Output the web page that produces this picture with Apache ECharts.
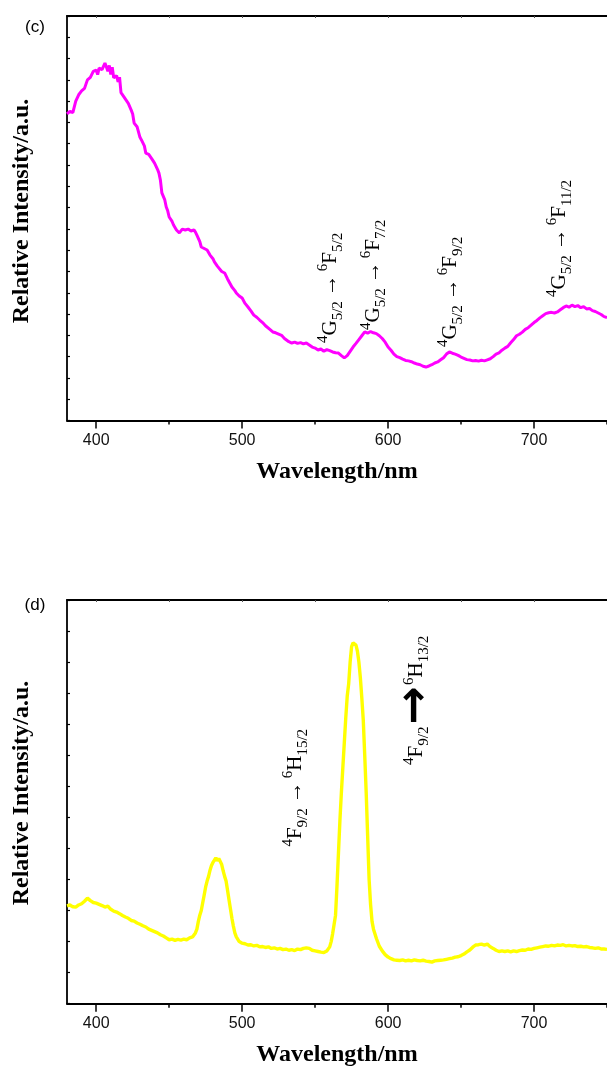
<!DOCTYPE html>
<html>
<head>
<meta charset="utf-8">
<script src="https://cdn.jsdelivr.net/npm/echarts@6/dist/echarts.min.js"></script>
<style>
  html, body { margin: 0; padding: 0; background: #fff; }
  #chart { width: 607px; height: 1071px; }
</style>
</head>
<body>
<div id="chart"></div>
<script>
// Emission spectrum (c): [wavelength nm, relative intensity]
const spectrumC = [
  [380,1440],[382,1452],[384,1446],[386,1500],[388,1530],[390,1548],[392,1560],[394,1600],[396,1612],[398,1640],
  [400,1646],[401,1625],[402,1655],[404,1648],[406,1679],[407,1660],[408,1640],[409,1668],[410,1625],[411,1660],
  [412,1610],[414,1620],[415,1590],[416,1613],[417,1540],[418,1548],[419,1520],[420,1515],[422,1490],[424,1458],
  [425,1440],[426,1397],[428,1380],[430,1330],[431,1318],[433,1290],[434,1256],[436,1250],[438,1230],[440,1209],
  [442,1180],[443,1162],[444,1129],[445,1069],[446,1060],[447,1036],[448,1003],[449,985],[450,956],[452,935],
  [453,918],[455,895],[457,881],[458,890],[459,899],[461,895],[463,899],[465,890],[467,895],[468,885],
  [469,871],[471,840],[472,815],[474,808],[476,801],[478,777],[480,760],[481,745],[483,725],[484,716],
  [486,700],[488,693],[490,665],[491,660],[493,627],[495,610],[496,599],[498,585],[500,575],[502,550],
  [504,533],[506,515],[508,495],[510,485],[512,472],[514,460],[516,445],[517,439],[519,428],[521,416],
  [523,412],[525,406],[527,400],[529,385],[530,378],[532,370],[534,364],[536,368],[538,362],[540,366],
  [542,360],[544,364],[546,355],[548,345],[550,340],[552,331],[554,336],[556,325],[558,333],[560,328],
  [562,322],[564,318],[566,317],[568,305],[570,294],[571,298],[572,305],[574,325],[576,345],[578,362],
  [580,380],[582,398],[584,416],[586,410],[588,418],[590,412],[592,408],[594,398],[596,385],[598,368],
  [600,345],[602,330],[604,312],[606,300],[608,295],[610,288],[612,282],[614,280],[616,276],[618,270],
  [620,265],[622,262],[624,255],[626,251],[628,256],[630,262],[632,270],[634,275],[636,285],[638,295],
  [640,312],[642,322],[644,316],[646,312],[648,306],[650,298],[652,292],[654,286],[656,284],[658,280],
  [660,282],[662,279],[664,283],[666,280],[668,285],[670,290],[672,300],[674,312],[676,318],[678,330],
  [680,340],[682,348],[684,365],[686,380],[688,398],[690,405],[692,415],[694,428],[696,436],[698,448],
  [700,460],[702,470],[704,482],[706,492],[708,502],[710,506],[712,508],[714,505],[716,510],[718,520],
  [720,530],[722,538],[724,532],[726,542],[728,535],[730,540],[732,530],[734,535],[736,524],[738,526],
  [740,516],[742,512],[744,505],[746,498],[748,488],[750,484]
];

// Emission spectrum (d): [wavelength nm, relative intensity]
const spectrumD = [
  [380,315],[382,318],[384,312],[386,311],[388,318],[390,322],[392,330],[394,340],[396,332],[398,326],
  [400,324],[402,320],[404,316],[406,311],[408,314],[410,304],[412,298],[414,295],[416,290],[418,284],
  [420,279],[422,275],[424,268],[426,266],[428,260],[430,256],[432,251],[434,247],[436,240],[438,236],
  [440,232],[442,228],[444,222],[446,218],[448,212],[450,206],[452,208],[454,204],[456,207],[458,205],
  [460,208],[462,206],[464,212],[466,215],[468,228],[469,240],[470,265],[471,285],[472,300],[473,325],
  [474,350],[475,376],[476,395],[477,410],[478,430],[479,445],[480,455],[481,462],[482,470],[483,460],
  [484,468],[485,463],[486,448],[487,428],[488,410],[489,395],[490,365],[491,335],[492,305],[493,275],
  [494,250],[495,228],[496,215],[498,200],[500,195],[502,193],[504,189],[506,190],[508,186],[510,188],
  [512,183],[514,184],[516,181],[518,183],[520,178],[522,180],[524,176],[526,178],[528,174],[530,176],
  [532,172],[534,174],[536,171],[538,176],[540,174],[542,178],[544,180],[546,178],[548,172],[550,170],
  [552,168],[554,166],[556,165],[558,170],[560,183],[561,200],[562,225],[563,255],[564,285],[565,380],
  [566,485],[567,590],[568,680],[569,760],[570,840],[571,920],[572,990],[573,1030],[574,1100],[575,1150],
  [576,1162],[577,1165],[578,1155],[579,1135],[580,1100],[581,1050],[582,985],[583,913],[584,800],[585,680],
  [586,540],[587,400],[588,320],[589,265],[590,240],[592,210],[594,185],[596,170],[598,158],[600,150],
  [602,145],[604,141],[606,140],[608,139],[610,141],[612,138],[614,140],[616,138],[618,141],[620,139],
  [622,138],[624,140],[626,137],[628,136],[630,134],[632,138],[634,139],[636,140],[638,141],[640,143],
  [642,145],[644,147],[646,150],[648,151],[650,155],[652,160],[654,167],[656,173],[658,182],[660,189],
  [662,190],[664,192],[666,189],[668,192],[670,183],[672,178],[674,172],[676,168],[678,170],[680,168],
  [682,170],[684,167],[686,170],[688,168],[690,171],[692,173],[694,172],[696,176],[698,175],[700,178],
  [702,180],[704,182],[706,184],[708,186],[710,185],[712,188],[714,186],[716,189],[718,188],[720,190],
  [722,186],[724,188],[726,186],[728,187],[730,184],[732,185],[734,183],[736,184],[738,181],[740,180],
  [742,178],[744,180],[746,176],[748,176],[750,175]
];

// Axis ticks (nm)
const labelTicks = [400, 500, 600, 700];
const halfTicks = [450, 550, 650, 750];
const frameTicks = [400, 450, 500, 550, 600, 650, 700, 750];

// Transition labels: anchor [nm, intensity] at the start of each text
const transitionAnchorsC = [[560.5, 364], [589.8, 425], [643, 345], [717.4, 580]];
const transitionTextsC = [
  '{sup|4}{m|G}{sub|5/2}{ar|→}{sup|6}{m|F}{sub|5/2}',
  '{sup|4}{m|G}{sub|5/2}{ar|→}{sup|6}{m|F}{sub|7/2}',
  '{sup|4}{m|G}{sub|5/2}{ar|→}{sup|6}{m|F}{sub|9/2}',
  '{sup|4}{m|G}{sub|5/2}{ar|→}{sup|6}{m|F}{sub|11/2}'
];
const transitionAnchorsD = [[536.4, 506], [619.4, 769]];
const transitionTextsD = [
  '{sup|4}{m|F}{sub|9/2}{ar|→}{sup|6}{m|H}{sub|15/2}',
  '{sup|4}{m|F}{sub|9/2}{big|→}{sup|6}{m|H}{sub|13/2}'
];

const SERIF = '"Liberation Serif", "Times New Roman", serif';
const SANS = '"Liberation Sans", Arial, sans-serif';
const BLACK = '#000';

const chart = echarts.init(document.getElementById('chart'), null, { renderer: 'canvas' });

function xAxesFor(g) {
  const common = { type: 'value', gridIndex: g, min: 380, max: 750, splitLine: { show: false } };
  return [
    Object.assign({}, common, {
      position: 'bottom',
      axisLine: { onZero: false, lineStyle: { color: BLACK, width: 1.8 } },
      axisTick: { customValues: labelTicks, length: 8, lineStyle: { color: BLACK, width: 1.5 } },
      axisLabel: { customValues: labelTicks, margin: 12, color: '#111', fontSize: 16, fontFamily: SANS },
      name: 'Wavelength/nm', nameLocation: 'middle', nameGap: 39,
      nameTextStyle: { color: BLACK, fontSize: 24, fontWeight: 'bold', fontFamily: SERIF }
    }),
    Object.assign({}, common, {
      position: 'bottom',
      axisLine: { show: false, onZero: false },
      axisTick: { customValues: halfTicks, length: 4, lineStyle: { color: BLACK, width: 1.5 } },
      axisLabel: { show: false }
    }),
    Object.assign({}, common, {
      position: 'top',
      axisLine: { onZero: false, lineStyle: { color: BLACK, width: 1.8 } },
      axisTick: { inside: true, customValues: frameTicks, length: 2, lineStyle: { color: '#555', width: 1 } },
      axisLabel: { show: false }
    })
  ];
}

function yAxisFor(g, max) {
  return {
    type: 'value', gridIndex: g, position: 'left', min: 0, max: max, interval: 100,
    axisLine: { onZero: false, lineStyle: { color: BLACK, width: 1.8 } },
    axisTick: { inside: true, length: 3, lineStyle: { color: BLACK, width: 1.2 } },
    axisLabel: { show: false },
    splitLine: { show: false }
  };
}

chart.setOption({
  animation: false,
  backgroundColor: '#fff',
  grid: [
    { left: 67, top: 16, width: 543, height: 404.5 },
    { left: 67, top: 600, width: 543, height: 403.7 }
  ],
  xAxis: xAxesFor(0).concat(xAxesFor(1)),
  yAxis: [yAxisFor(0, 1900), yAxisFor(1, 1300)],
  series: [
    {
      type: 'line', xAxisIndex: 0, yAxisIndex: 0, data: spectrumC,
      showSymbol: false, symbol: 'none',
      lineStyle: { color: '#ff00ff', width: 3 }
    },
    {
      type: 'line', xAxisIndex: 3, yAxisIndex: 1, data: spectrumD,
      showSymbol: false, symbol: 'none',
      lineStyle: { color: '#ffff00', width: 3.4 }
    }
  ]
});

const richStyles = {
  m: { fontSize: 21, fontFamily: SERIF, color: BLACK, verticalAlign: 'middle', lineHeight: 30 },
  sup: { fontSize: 15, fontFamily: SERIF, color: BLACK, verticalAlign: 'top', lineHeight: 15 },
  sub: { fontSize: 15, fontFamily: SERIF, color: BLACK, verticalAlign: 'bottom', lineHeight: 15 },
  ar: { fontSize: 22, fontFamily: SERIF, color: BLACK, verticalAlign: 'middle', lineHeight: 30, padding: [0, 3, 0, 5] },
  big: { fontSize: 46, fontWeight: 'bold', fontFamily: '"DejaVu Sans", sans-serif', color: BLACK, verticalAlign: 'middle', lineHeight: 30, padding: [0, 1, 0, 2] }
};

function transitionText(gridIndex, anchor, text) {
  const p = chart.convertToPixel({ gridIndex: gridIndex }, anchor);
  return {
    type: 'text', x: p[0], y: p[1], rotation: Math.PI / 2,
    style: { text: text, rich: richStyles, align: 'left', verticalAlign: 'middle' },
    z: 10
  };
}

const graphics = [];
transitionAnchorsC.forEach((a, i) => graphics.push(transitionText(0, a, transitionTextsC[i])));
transitionAnchorsD.forEach((a, i) => graphics.push(transitionText(1, a, transitionTextsD[i])));

// Panel letters and vertical axis titles
[['(c)', 27], ['(d)', 605]].forEach(([t, y]) => graphics.push({
  type: 'text', x: 35, y: y,
  style: { text: t, fontSize: 17, fontFamily: SANS, fill: BLACK, align: 'center', verticalAlign: 'middle' }
}));
[211, 793].forEach(y => graphics.push({
  type: 'text', x: 22, y: y, rotation: Math.PI / 2,
  style: { text: 'Relative Intensity/a.u.', fontSize: 24, fontWeight: 'bold', fontFamily: SERIF, fill: BLACK, align: 'center', verticalAlign: 'middle' }
}));

chart.setOption({ graphic: graphics });
</script>
</body>
</html>
